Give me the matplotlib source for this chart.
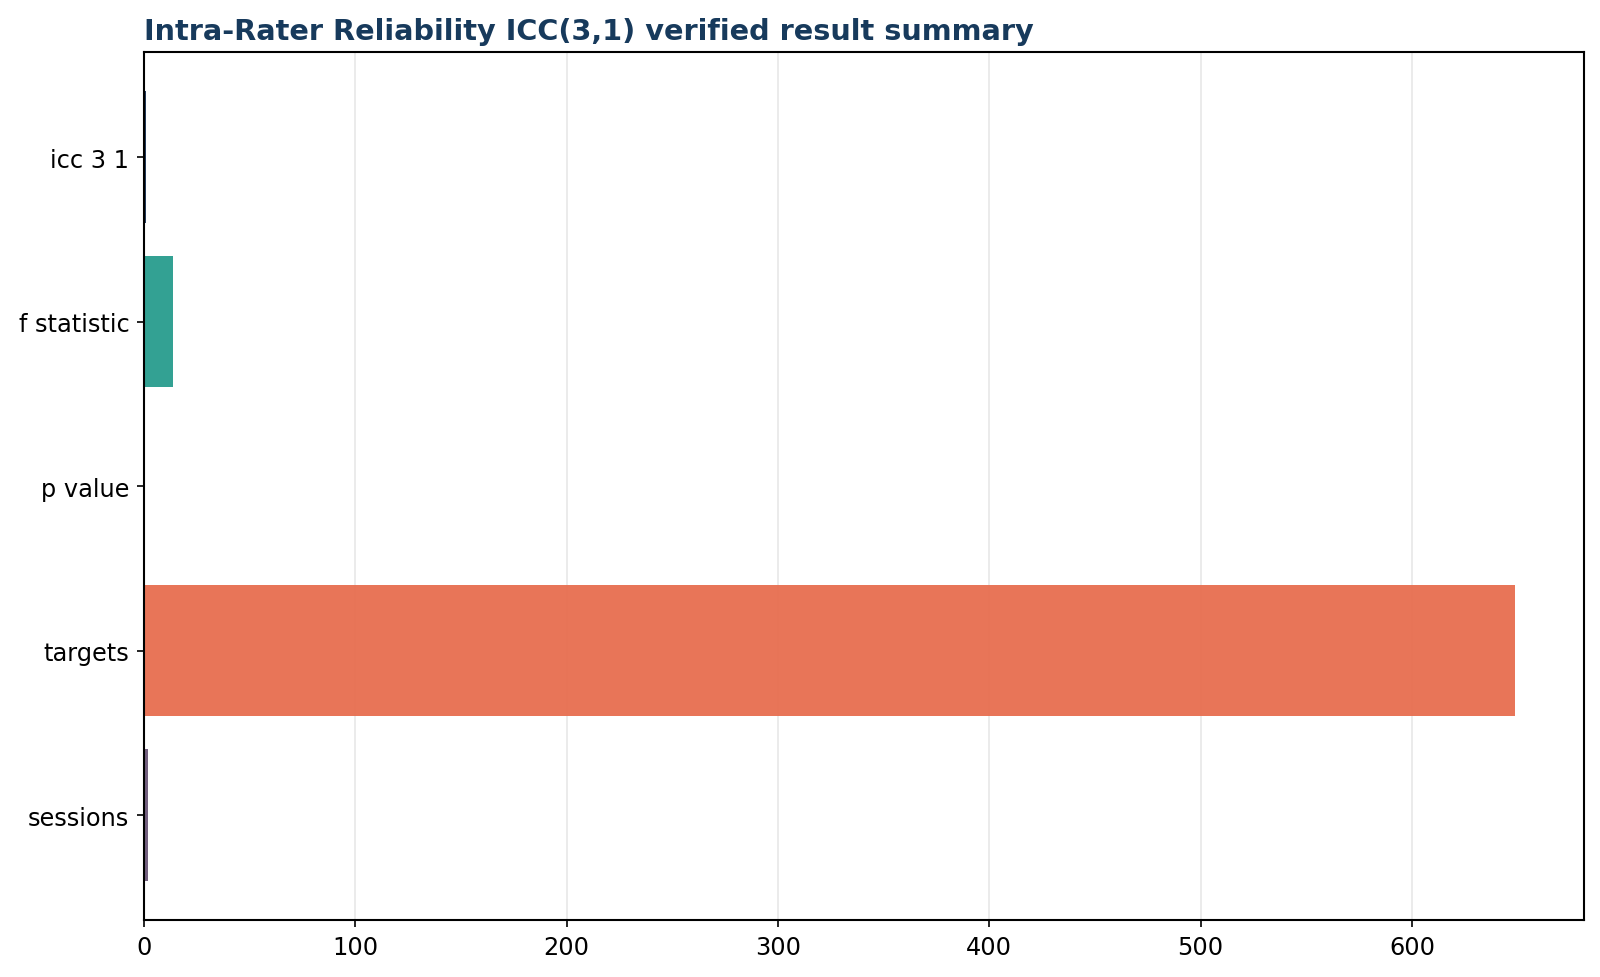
import matplotlib
matplotlib.use("Agg")
import matplotlib.pyplot as plt

# values
labels = ["icc 3 1", "f statistic", "p value", "targets", "sessions"]
values = [0.85, 13.6, 0.0001, 649, 2]
colors = ["#1d3557", "#2a9d8f", "#e9c46a", "#e76f51", "#6d597a"]

fig, ax = plt.subplots(figsize=(1600 / 150, 978 / 150), dpi=150)
fig.subplots_adjust(left=0.09, right=0.99, top=0.946, bottom=0.058)

ax.barh(labels, values, color=colors, alpha=0.96, height=0.8, zorder=2)
ax.invert_yaxis()
ax.grid(axis="x", color="#cccccc", alpha=0.45, linewidth=0.8, zorder=0)
ax.set_axisbelow(True)
ax.tick_params(labelsize=11.5)
for s in ax.spines.values():
    s.set_linewidth(1.0)
ax.set_title("Intra-Rater Reliability ICC(3,1) verified result summary",
             loc="left", fontsize=13.8, fontweight="bold", color="#173a5c")

fig.savefig("out.png", dpi=150)
